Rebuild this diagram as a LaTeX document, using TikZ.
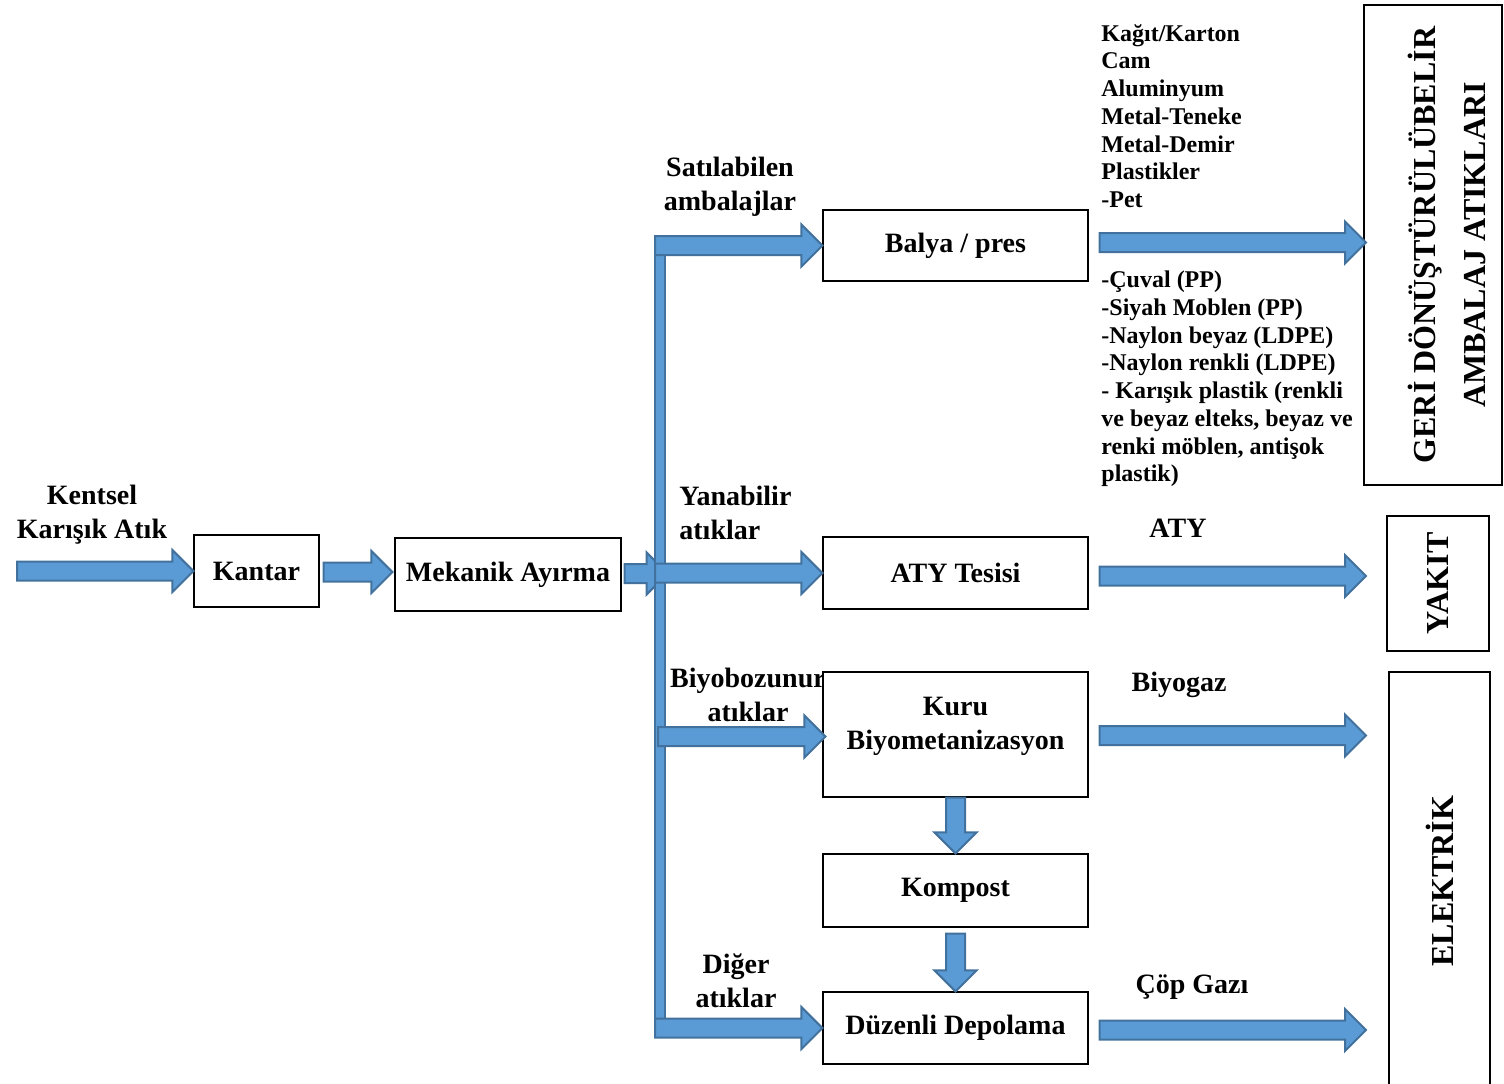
\documentclass[tikz,border=0pt]{standalone}
\usepackage{fontspec}
\setmainfont{Liberation Serif}
\usetikzlibrary{calc,positioning}
\definecolor{arrowfill}{HTML}{5B9BD5}
\definecolor{arrowline}{HTML}{41719C}
\tikzset{
    block/.style = {
        draw,
        fill = white,
        line width = 0.6pt,
        align = center,
        inner sep = 2pt,
        font = \fontsize{14}{17}\selectfont\bfseries,
        },
    flow label/.style = {
        align = center,
        inner sep = 0pt,
        font = \fontsize{14}{17}\selectfont\bfseries,
        },
    list/.style = {
        align = left,
        anchor = west,
        inner sep = 0pt,
        font = \fontsize{12}{13.85}\selectfont\bfseries,
        },
    side box/.style = {
        draw,
        fill = white,
        line width = 0.6pt,
        rotate = 90,
        align = center,
        font = \fontsize{16}{25}\selectfont\bfseries,
        },
    fat arrow/.style = {
        fill = arrowfill,
        draw = arrowline,
        line width = 1pt,
        },
}
% block arrow from #1 to #2
\newcommand{\fatarrow}[2]{%
    \coordinate (fa-s) at #1;
    \coordinate (fa-e) at #2;
    \coordinate (fa-h) at ($(fa-e)!10.5pt!(fa-s)$);
    \draw[fat arrow] ($(fa-s)!4.75pt!90:(fa-e)$) -- ($(fa-h)!4.75pt!-90:(fa-s)$)
        -- ($(fa-h)!10.5pt!-90:(fa-s)$) -- (fa-e) -- ($(fa-h)!10.5pt!90:(fa-s)$)
        -- ($(fa-h)!4.75pt!90:(fa-s)$) -- ($(fa-s)!4.75pt!-90:(fa-e)$) -- cycle;
}

\begin{document}
\begin{tikzpicture}[x=0.5pt, y=-0.5pt]
    \useasboundingbox (0,0) rectangle (1504,1083);

    % labels first, boxes are filled white over them
    \node [flow label] (kentsel) at (92,515) {Kentsel\\Karışık Atık};
    \node [flow label] (satilabilen) at (730,187) {Satılabilen\\ambalajlar};
    \node [flow label, anchor=west, align=left] (yanabilir) at (679,513) {Yanabilir\\atıklar};
    \node [flow label] (biyobozunur) at (748,695) {Biyobozunur\\atıklar};
    \node [flow label] (diger) at (736,981) {Diğer\\atıklar};
    \node [flow label] (atylbl) at (1178,528) {ATY};
    \node [flow label] (biyogaz) at (1179,685) {Biyogaz};
    \node [flow label] (copgazi) at (1192,987) {Çöp Gazı};

    \node [list] (liste1) at (1101,116) {Kağıt/Karton\\Cam\\Aluminyum\\Metal-Teneke\\Metal-Demir\\Plastikler\\-Pet};
    \node [list] (liste2) at (1101,379) {-Çuval (PP)\\-Siyah Moblen (PP)\\-Naylon beyaz (LDPE)\\-Naylon renkli (LDPE)\\- Karışık plastik (renkli\\ve beyaz elteks, beyaz ve\\renki möblen, antişok\\plastik)};

    % main boxes
    \node [block, minimum width=62.5pt, minimum height=36pt] (kantar) at (256.5,571) {Kantar};
    \node [block, minimum width=113pt, minimum height=36.5pt] (mekanik) at (508,574.5) {Mekanik Ayırma};
    \node [block, minimum width=132.5pt, minimum height=35.5pt] (balya) at (955.5,245.5) {Balya / pres};
    \node [block, minimum width=132.5pt, minimum height=36pt] (aty) at (955.5,573) {ATY Tesisi};
    \node [block, minimum width=132.5pt, minimum height=62.5pt] (kuru) at (955.5,734.5) {Kuru\\Biyometanizasyon\\[-11pt]\strut};
    \node [block, minimum width=132.5pt, minimum height=36.5pt] (kompost) at (955.5,890.5) {Kompost};
    \node [block, minimum width=132.5pt, minimum height=36pt] (depolama) at (955.5,1028) {Düzenli Depolama};

    % output boxes
    \node [side box, minimum width=240pt, minimum height=69pt] (geri) at (1433,245) {\strut\\[-15pt]GERİ DÖNÜŞTÜRÜLÜBELİR\\AMBALAJ ATIKLARI};
    \node [side box, minimum width=67.5pt, minimum height=51pt] (yakit) at (1438,583.5) {YAKIT};
    \node [side box, minimum width=209pt, minimum height=50.5pt] (elektrik) at (1439.5,881) {ELEKTRİK};

    \coordinate (giris) at (17,571);
    \coordinate (bartop) at (655,236);
    \coordinate (barbot) at (665,1037);
    \coordinate (rend) at (1366,0);

    \fatarrow{(giris)}{(kantar.west)}
    \fatarrow{($(kantar.east)+(4,1)$)}{($(kantar.east -| mekanik.west)+(-2,1)$)}
    \fatarrow{($(mekanik.east)+(3,-1)$)}{($(mekanik.east)+(46,-1)$)}

    % distribution bar
    \draw[fat arrow] (bartop) rectangle (barbot);

    \fatarrow{(bartop |- balya.west)}{(balya.west)}
    \fatarrow{(bartop |- aty.west)}{(aty.west)}
    \fatarrow{($(bartop |- kuru.west)+(3,2)$)}{($(kuru.west)+(3,2)$)}
    \fatarrow{(bartop |- depolama.west)}{(depolama.west)}

    \fatarrow{(kuru.south)}{(kompost.north)}
    \fatarrow{($(kompost.south)+(0,6)$)}{(depolama.north)}

    \fatarrow{($(balya.east)+(11,-3)$)}{($(balya.east -| rend)+(0,-3)$)}
    \fatarrow{($(aty.east)+(11,3)$)}{($(aty.east -| rend)+(0,3)$)}
    \fatarrow{($(kuru.east)+(11,1)$)}{($(kuru.east -| rend)+(0,1)$)}
    \fatarrow{($(depolama.east)+(11,2)$)}{($(depolama.east -| rend)+(0,2)$)}
\end{tikzpicture}
\end{document}
